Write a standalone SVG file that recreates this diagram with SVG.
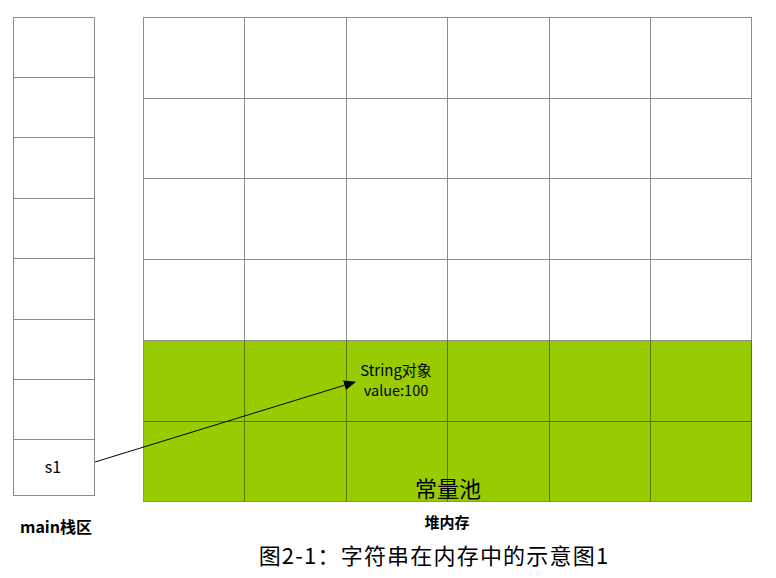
<svg xmlns="http://www.w3.org/2000/svg" width="776" height="578" viewBox="0 0 776 578">
<style>
text{font-family:"Noto Sans CJK SC","Noto Sans",sans-serif;fill:#000}
.g{stroke:#8c8c8c;stroke-width:1;fill:none}
.d{stroke:#5a7800;stroke-width:1;fill:none}
</style>
<defs>
<marker id="ah" markerWidth="12" markerHeight="10" refX="11" refY="5" orient="auto" markerUnits="userSpaceOnUse">
<path d="M0,0 L12,5 L0,10 Z" fill="#000"/>
</marker>
</defs>
<rect width="776" height="578" fill="#fff"/>
<g id="stack">
<rect x="13.5" y="17.5" width="81" height="478" fill="#fff" class="g"/>
<path class="g" d="M13.5 77.5H94.5M13.5 137.5H94.5M13.5 198.5H94.5M13.5 258.5H94.5M13.5 319.5H94.5M13.5 379.5H94.5M13.5 439.5H94.5"/>
<text x="53" y="473" font-size="16" text-anchor="middle">s1</text>
<text x="56" y="533" font-size="16" font-weight="bold" text-anchor="middle">main栈区</text>
</g>
<g id="heap">
<rect x="143.5" y="17.5" width="608" height="323" fill="#fff" class="g"/>
<path class="g" d="M244.5 17.5V340.5M346.5 17.5V340.5M447.5 17.5V340.5M549.5 17.5V340.5M650.5 17.5V340.5M143.5 98.5H751.5M143.5 178.5H751.5M143.5 259.5H751.5"/>
<text x="447" y="528" font-size="15" font-weight="bold" text-anchor="middle">堆内存</text>
</g>
<g id="pool">
<rect x="143.5" y="340.5" width="608" height="161" fill="#99cc00" stroke="#8c8c8c"/>
<path class="d" d="M244.5 340.5V501.5M346.5 340.5V501.5M447.5 340.5V501.5M549.5 340.5V501.5M650.5 340.5V501.5M143.5 421.5H751.5M751.5 340.5V501.5"/>
<text x="448" y="497" font-size="22" text-anchor="middle">常量池</text>
</g>
<g id="stringobj">
<text x="396" y="376" font-size="15" text-anchor="middle">String对象</text>
<text x="396" y="396" font-size="14.5" text-anchor="middle">value:100</text>
</g>
<g id="connectors">
<line x1="95" y1="462" x2="355" y2="382" stroke="#000" stroke-width="1" marker-end="url(#ah)"/>
</g>
<text x="434" y="564" font-size="22" text-anchor="middle" letter-spacing="1.2">图2-1：字符串在内存中的示意图1</text>
</svg>
